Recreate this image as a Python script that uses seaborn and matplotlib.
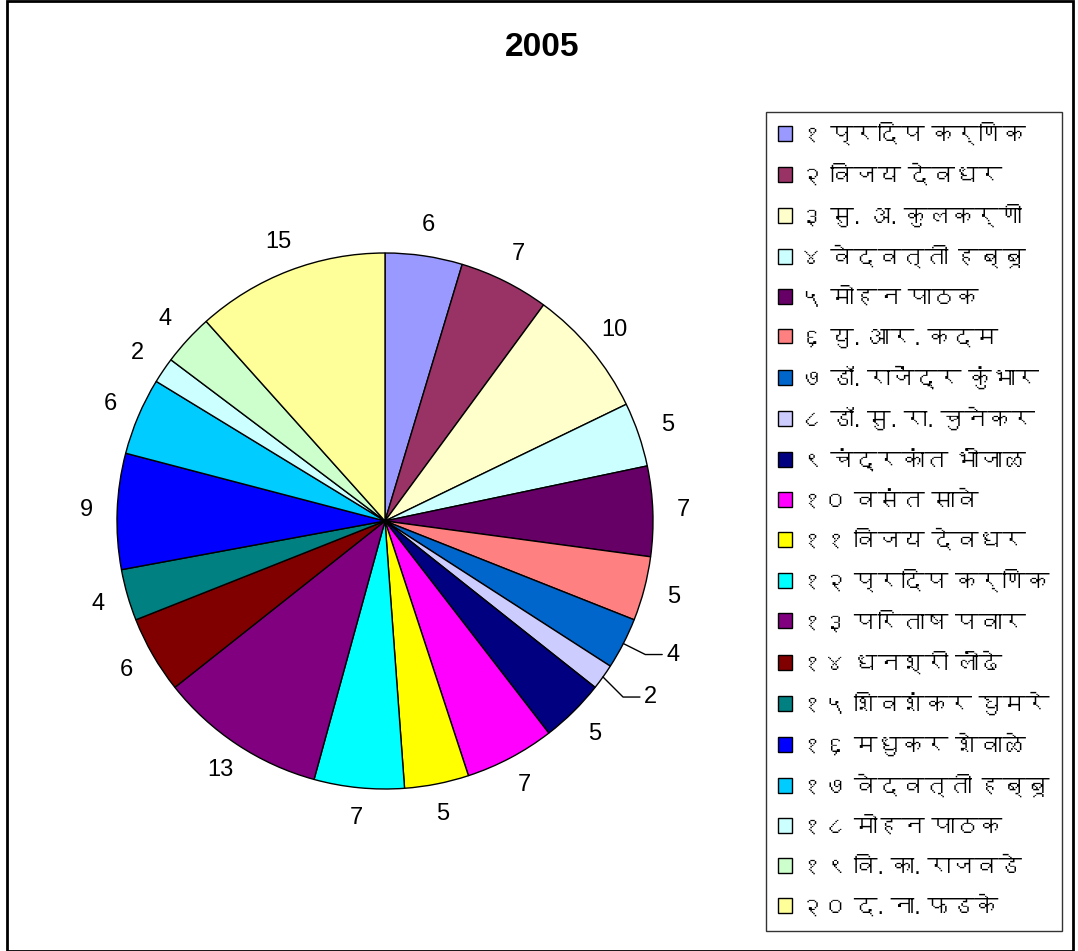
import numpy as np
import matplotlib
matplotlib.use('Agg')
import matplotlib.pyplot as plt
import seaborn as sns
from matplotlib import font_manager
from matplotlib.ft2font import FT2Font

# data
names = ['१ प्रदिप कर्णिक', '२ विजय देवधर', '३ सु. अ. कुलकर्णी', '४ वेदवत्ती हब्बू',
         '५ मोहन पाठक', '६ यु. आर. कदम', '७ डॉ. राजेंद्र कुंभार', '८ डॉ. सु. रा. चुनेकर',
         '९ चंद्रकांत भोंजाळ', '१० वसंत सावे', '११ विजय देवधर', '१२ प्रदिप कर्णिक',
         '१३ परिताष पवार', '१४ धनश्री लोंढे', '१५ शिवशंकर घुमरे', '१६ मधुकर शेवाळे',
         '१७ वेदवत्ती हब्बू', '१८ मोहन पाठक', '१९ वि. का. राजवडे', '२० द. ना. फडके']
values = [6, 7, 10, 5, 7, 5, 4, 2, 5, 7, 5, 7, 13, 6, 4, 9, 6, 2, 4, 15]
colors = ['#9999FF', '#993366', '#FFFFCC', '#CCFFFF', '#660066', '#FF8080', '#0066CC',
          '#CCCCFF', '#000080', '#FF00FF', '#FFFF00', '#00FFFF', '#800080', '#800000',
          '#008080', '#0000FF', '#00CCFF', '#CCFFFF', '#CCFFCC', '#FFFF99']
title = '2005'
# slices whose label sits outside with a leader line
leader = {6: (0.082, -0.041), 7: (0.075, -0.075)}

sns.set_theme(style='white')

# look for any installed font that can draw Devanagari
dev_font = None
for f in font_manager.fontManager.ttflist:
    try:
        if 0x0915 in FT2Font(f.fname).get_charmap():
            dev_font = f.name
            break
    except Exception:
        pass
fams = ['Liberation Sans', 'DejaVu Sans']
if dev_font:
    fams = ['Liberation Sans', dev_font, 'DejaVu Sans']
plt.rcParams['font.family'] = fams
plt.rcParams['text.color'] = 'black'

fig = plt.figure(figsize=(10.78, 9.51), dpi=100)
W, H = 1078, 951

# pie axes: centre (385, 521) px, radius 268 px, limits +-1.4
lim = 1.4
size = 268 * lim * 2
ax = fig.add_axes([(385 - size / 2) / W, (H - 521 - size / 2) / H, size / W, size / H])
wedges, texts = ax.pie(values, colors=colors, startangle=90, counterclock=False,
                       labels=[str(v) for v in values], labeldistance=1.115,
                       wedgeprops=dict(edgecolor='black', linewidth=1),
                       textprops=dict(fontsize=17, color='black', family='Liberation Sans'))
ax.set_xlim(-lim, lim)
ax.set_ylim(-lim, lim)
ax.set_aspect('equal')
ax.axis('off')

for i, t in enumerate(texts):
    t.set_ha('center')
    if i in leader:
        w = wedges[i]
        a = np.deg2rad((w.theta1 + w.theta2) / 2)
        x0, y0 = np.cos(a), np.sin(a)
        dx, dy = leader[i]
        x1, y1 = x0 + dx, y0 + dy
        x2 = x1 + 0.063
        ax.plot([x0, x1, x2], [y0, y1, y1], color='black', lw=1)
        t.set_position((x2 + 0.015, y1))
        t.set_ha('left')

fig.text(542 / W, 1 - 47 / H, title, ha='center', va='center', fontsize=24,
         fontweight='bold', color='black', family='Liberation Sans')

leg = fig.legend(wedges, names, loc='upper left',
                 bbox_to_anchor=(766 / W, 1 - 112 / H), frameon=True, fancybox=False,
                 fontsize=17, handlelength=0.6, handleheight=0.6, handletextpad=0.35,
                 labelspacing=0.754, borderpad=0.5, borderaxespad=0)
leg.get_frame().set_edgecolor('black')
leg.get_frame().set_linewidth(1)
for h in leg.legend_handles:
    h.set_edgecolor('black')
    h.set_linewidth(1)
for t in leg.get_texts():
    t.set_color('black')

# outer border of the chart area
fig.patches.append(plt.Rectangle((7 / W, 0), 1066 / W, 1 - 1 / H, transform=fig.transFigure,
                                 fill=False, edgecolor='black', linewidth=2))

fig.savefig('out.png', dpi=100)
print('devanagari font:', dev_font)
